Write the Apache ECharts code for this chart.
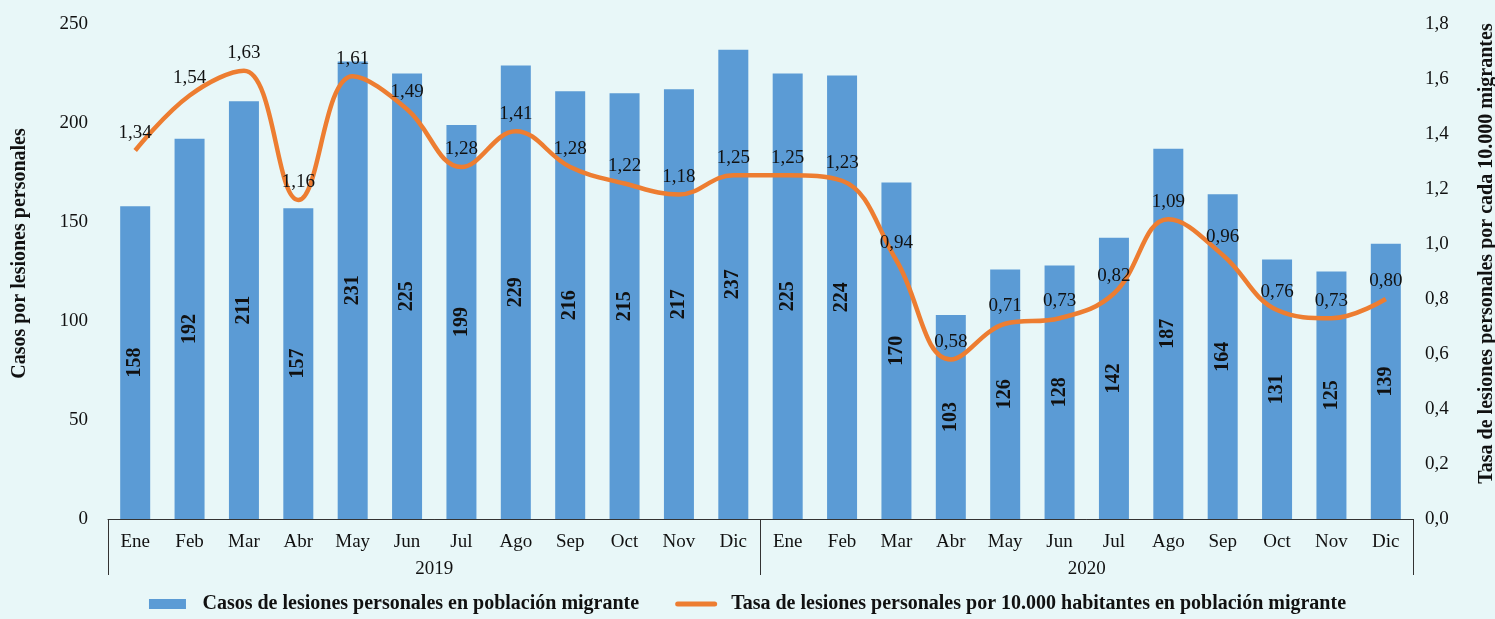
<!DOCTYPE html>
<html><head><meta charset="utf-8">
<script src="https://cdn.jsdelivr.net/npm/echarts@6/dist/echarts.min.js"></script>
<style>html,body{margin:0;padding:0;background:#e8f7f8;}#c{width:1495px;height:619px;}</style>
</head><body><div id="c"></div>
<script>
const months = ['Ene','Feb','Mar','Abr','May','Jun','Jul','Ago','Sep','Oct','Nov','Dic','Ene','Feb','Mar','Abr','May','Jun','Jul','Ago','Sep','Oct','Nov','Dic'];
const years = ['2019','2020'];
const casos = [158,192,211,157,231,225,199,229,216,215,217,237,225,224,170,103,126,128,142,187,164,131,125,139];
const tasa = [1.34,1.54,1.63,1.16,1.61,1.49,1.28,1.41,1.28,1.22,1.18,1.25,1.25,1.23,0.94,0.58,0.71,0.73,0.82,1.09,0.96,0.76,0.73,0.80];
const leftTicks = {min:0,max:250,interval:50};
const rightTicks = {min:0,max:1.8,interval:0.2};
const barName = 'Casos de lesiones personales en población migrante';
const lineName = 'Tasa de lesiones personales por 10.000 habitantes en población migrante';

const FONT = '"Liberation Serif", "DejaVu Serif", serif';
const chart = echarts.init(document.getElementById('c'));
const fmtComma = (v, d) => v.toFixed(d).replace('.', ',');
chart.setOption({
  backgroundColor: '#e8f7f8',
  textStyle: {fontFamily: FONT, color: '#111'},
  grid: {left: 108, right: 82, top: 24, bottom: 100, containLabel: false, outerBoundsMode: 'none'},
  legend: {
    bottom: 0, left: 'center', itemGap: 36, itemWidth: 42, itemHeight: 10,
    textStyle: {fontFamily: FONT, fontSize: 20, fontWeight: 'bold', color: '#111', padding: [0, 0, 0, 9]},
    data: [
      {name: barName, icon: 'path://M0,0h37v10h-37z'},
      {name: lineName, icon: 'path://M2.5,0h37a2.5,2.5 0 0 1 0,5h-37a2.5,2.5 0 0 1 0,-5z'}
    ]
  },
  xAxis: [
    {type: 'category', data: months, position: 'bottom',
     axisLine: {show: true, lineStyle: {color: '#333', width: 1}},
     axisTick: {show: false},
     axisLabel: {fontFamily: FONT, fontSize: 19, color: '#111', margin: 14, interval: 0}},
    {type: 'category', data: years, position: 'bottom',
     axisLine: {show: false},
     axisTick: {show: true, length: 56, interval: 0, alignWithLabel: false, lineStyle: {color: '#333', width: 1}},
     axisLabel: {fontFamily: FONT, fontSize: 19, color: '#111', margin: 41}}
  ],
  yAxis: [
    {type: 'value', min: leftTicks.min, max: leftTicks.max, interval: leftTicks.interval,
     name: 'Casos por lesiones personales', nameLocation: 'middle', nameGap: 78,
     nameTextStyle: {fontFamily: FONT, fontSize: 20, fontWeight: 'bold', color: '#111', padding: [0, 0, 0, 36]},
     axisLine: {show: false}, axisTick: {show: false}, splitLine: {show: false},
     axisLabel: {fontFamily: FONT, fontSize: 19, color: '#111', margin: 20}},
    {type: 'value', min: rightTicks.min, max: rightTicks.max, interval: rightTicks.interval,
     name: 'Tasa de lesiones personales por cada 10.000 migrantes', nameLocation: 'middle', nameGap: 64, nameRotate: 90,
     nameTextStyle: {fontFamily: FONT, fontSize: 20, fontWeight: 'bold', color: '#111', padding: [0, 0, 0, 36]},
     axisLine: {show: false}, axisTick: {show: false}, splitLine: {show: false},
     axisLabel: {fontFamily: FONT, fontSize: 19, color: '#111', margin: 12, formatter: v => fmtComma(v, 1)}}
  ],
  series: [
    {name: barName, type: 'bar', data: casos, xAxisIndex: 0, yAxisIndex: 0, barWidth: 30,
     itemStyle: {color: '#5b9bd5'},
     label: {show: true, position: 'inside', rotate: 90, fontFamily: FONT, fontSize: 20, fontWeight: 'bold', color: '#111'}},
    {name: lineName, type: 'line', data: tasa, xAxisIndex: 0, yAxisIndex: 1, smooth: 0.4,
     symbol: 'circle', symbolSize: 0, showSymbol: true,
     lineStyle: {color: '#ed7d31', width: 4.5}, itemStyle: {color: '#ed7d31'},
     label: {show: true, position: 'top', distance: 8, fontFamily: FONT, fontSize: 19, color: '#111', formatter: p => fmtComma(p.value, 2)}}
  ]
});
</script></body></html>
